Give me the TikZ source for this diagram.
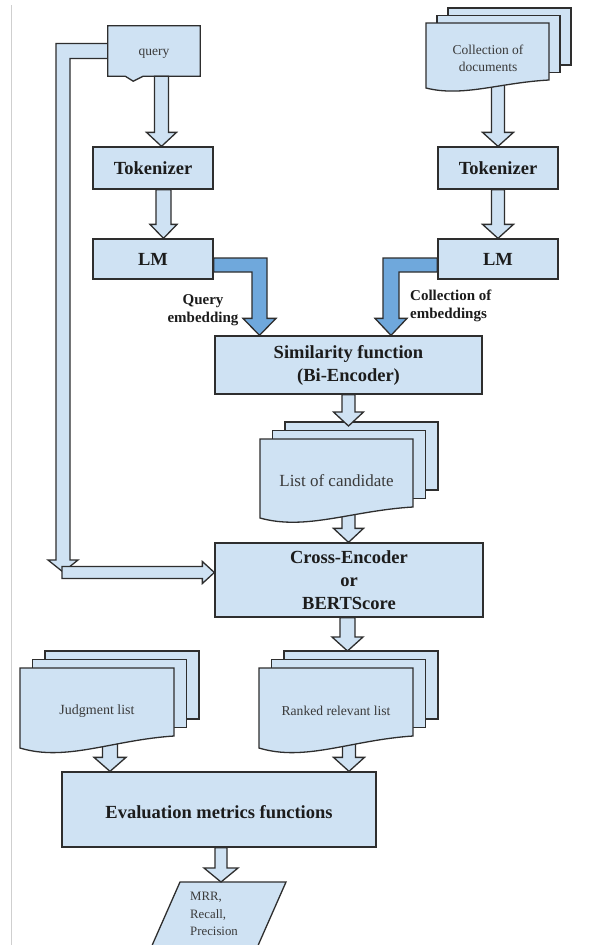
\documentclass[tikz,border=0pt]{standalone}
\usepackage{fontspec}
\setmainfont{Liberation Serif}
\usetikzlibrary{calc}

\definecolor{boxfill}{HTML}{CFE2F3}
\definecolor{embfill}{HTML}{6FA8DC}
\definecolor{edge}{HTML}{2E2E2E}
\definecolor{ink}{HTML}{1C1C1C}
\definecolor{softink}{HTML}{3A3A3A}
\definecolor{rulegray}{HTML}{CFCFCF}

\pgfdeclarelayer{bg}
\pgfdeclarelayer{under}
\pgfsetlayers{bg,under,main}

\tikzset{
  boxline/.style={draw=edge, fill=boxfill, line width=1.3pt, line join=miter},
  stepbox/.style={boxline, inner sep=0pt, align=center, text=ink,
    font=\bfseries\fontsize{18.5}{23}\selectfont},
  doclabel/.style={align=center, text=softink, inner sep=0pt},
  blk/.style={boxline},
  embarrow/.style={draw=edge, fill=embfill, line width=1.3pt, line join=miter},
  tag/.style={text=ink, inner sep=0pt, font=\bfseries\fontsize{15}{18}\selectfont},
}

% stack of three pages, the front one with a wavy bottom edge
% #1 name, #2 left, #3 top, #4 right, #5 bottom (right end), #6 dx, #7 dy, #8 wave depth
\newcommand\docstack[8]{%
  \draw[boxline] ({#2+2*#6},{#3-2*#7}) rectangle ({#4+2*#6},{#5-2*#7});
  \draw[boxline] ({#2+#6},{#3-#7}) rectangle ({#4+#6},{#5-#7});
  \draw[boxline] ({#2},{#3}) -- ({#4},{#3}) -- ({#4},{#5})
    .. controls ({#2+0.6*(#4-#2)},{#5+0.33*#8}) and ({#2+0.3*(#4-#2)},{#5+2.17*#8})
    .. ({#2},{#5+#8}) -- cycle;
  \coordinate (#1-top) at ({(#2+#4)/2},{#3-2*#7});
  \coordinate (#1-bot) at ({(#2+#4)/2},{#5});
}

% hollow block arrow pointing down
% [#1 style] #2 x, #3 start, #4 tip, #5 half shaft width, #6 half head width
\newcommand\blkdown[6][blk]{%
  \draw[#1] let \p1=#3, \p2=#4 in
    ({(#2-#5)*1pt},{\y1}) -- ({(#2+#5)*1pt},{\y1})
    -- ({(#2+#5)*1pt},{\y2+14pt}) -- ({(#2+#6)*1pt},{\y2+14pt})
    -- ({#2*1pt},{\y2}) -- ({(#2-#6)*1pt},{\y2+14pt})
    -- ({(#2-#5)*1pt},{\y2+14pt}) -- cycle;
}

\begin{document}
\begin{tikzpicture}[x=1pt,y=-1pt]
\useasboundingbox (0,0) rectangle (594,945);
\begin{pgfonlayer}{bg}
  \fill[white] (0,0) rectangle (594,945);
  \draw[rulegray, line width=1pt] (11.7,5) -- (11.7,945);
\end{pgfonlayer}

% ---- boxes ----
\node[minimum width=92pt, minimum height=50pt, inner sep=0pt] (query) at (154,51) {};
\node[stepbox, minimum width=120pt, minimum height=42pt] (tokL) at (153,168) {Tokenizer};
\node[stepbox, minimum width=120pt, minimum height=40pt] (lmL) at (153,259) {LM};
\node[stepbox, minimum width=120pt, minimum height=42pt] (tokR) at (498,168) {Tokenizer};
\node[stepbox, minimum width=120pt, minimum height=40pt] (lmR) at (498,259) {LM};
\node[stepbox, minimum width=267pt, minimum height=58pt] (sim) at (348.5,365)
  {Similarity function\\(Bi-Encoder)};
\node[stepbox, minimum width=268pt, minimum height=74pt] (cross) at (349,580)
  {Cross-Encoder\\or\\BERTScore};
\node[stepbox, minimum width=314pt, minimum height=75pt, text height=18pt, text depth=0pt]
  (eval) at (219,809.5) {Evaluation metrics functions};

% query input with a small notch on its lower edge
\draw[boxline] let \p1=(query.west), \p2=(cross.west) in
  ({\x1},{\y1+7.5pt}) -- (56pt,{\y1+7.5pt}) -- (56pt,{\y2+20pt}) -- (48pt,{\y2+20pt})
  -- (63pt,{\y2+8pt}) -- (78pt,{\y2+20pt}) -- (70pt,{\y2+20pt}) -- (70pt,{\y1-7.5pt})
  -- ({\x1},{\y1-7.5pt}) -- cycle;
\draw[blk] let \p1=(query.west), \p2=(cross.west) in
  (62pt,{\y2+13.5pt}) -- ({\x2-12pt},{\y2+13.5pt}) -- ({\x2-12pt},{\y2+18.5pt})
  -- ({\x2},{\y2+7.5pt}) -- ({\x2-12pt},{\y2-3.5pt}) -- ({\x2-12pt},{\y2+1.5pt})
  -- (62pt,{\y2+1.5pt}) -- cycle;
\draw[boxline] (query.north west) -- (query.north east) -- (query.south east)
  -- ++(-57,0) -- ++(-10,5) -- ++(-8,-5) -- (query.south west) -- cycle;
\node[doclabel, font=\fontsize{13.5}{17}\selectfont] (querytext) at (154,54) {query};

% ---- document stacks ----
\docstack{coll}{426}{23}{549}{80}{11}{7.5}{8}
\node[doclabel, font=\fontsize{13.5}{17}\selectfont] (colltext) at (488,58)
  {Collection of\\documents};
\docstack{list}{260}{439}{413}{507}{12.5}{8.5}{11}
\node[doclabel, font=\fontsize{17}{20}\selectfont] (listtext) at (336.5,481) {List of candidate};
\docstack{judg}{20}{668}{174}{736}{12.5}{8.5}{12}
\node[doclabel, font=\fontsize{14}{17}\selectfont] (judgtext) at (97,711) {Judgment list};
\docstack{rank}{259}{668}{413}{736}{12.5}{8.5}{12}
\node[doclabel, font=\fontsize{13.6}{17}\selectfont] (ranktext) at (336,711) {Ranked relevant list};

% ---- result ----
\begin{scope}
  \clip (0,0) rectangle (594,945);
  \draw[boxline] (180,882) -- (286,882) -- (234,1000) -- (128,1000) -- cycle;
\end{scope}
\coordinate (mrrtop) at (221,882);
\node[doclabel, align=left, anchor=north west, font=\fontsize{12.8}{17.5}\selectfont]
  (mrr) at (190,892) {MRR,\\Recall,\\Precision};

% ---- flow arrows ----
\blkdown{161.5}{(query.south)}{(tokL.north)}{7}{15}
\blkdown{163.5}{(tokL.south)}{(lmL.north)}{7.5}{13.5}
\blkdown{498}{(tokR.south)}{(lmR.north)}{6.5}{15.5}
\blkdown{348.5}{(sim.south)}{([yshift=-4pt]list-top)}{6.5}{15}
\blkdown{347.5}{(cross.south)}{(rank-top)}{7.5}{15.5}
\blkdown{221}{(eval.south)}{(mrrtop)}{6}{17}

\begin{pgfonlayer}{under}
  \blkdown{498}{(coll-bot)}{(tokR.north)}{6.5}{15.5}
  \blkdown{348.5}{(list-bot)}{(cross.north)}{6.5}{15}
  \blkdown{110}{(judg-bot)}{(eval.north)}{7.5}{16}
  \blkdown{349}{(rank-bot)}{(eval.north)}{6.5}{15.5}
\end{pgfonlayer}

% ---- embeddings into the similarity function ----
\draw[embarrow] let \p1=(lmL.east), \p2=(sim.north) in
  ({\x1},{\y1+1pt}) -- (267pt,{\y1+1pt}) -- (267pt,{\y2+17pt}) -- (276pt,{\y2+17pt})
  -- (259.5pt,{\y2}) -- (243pt,{\y2+17pt}) -- (252pt,{\y2+17pt}) -- (252pt,{\y1-13pt})
  -- ({\x1},{\y1-13pt}) -- cycle;
\draw[embarrow] let \p1=(lmR.west), \p2=(sim.north) in
  ({\x1},{\y1+1pt}) -- (383pt,{\y1+1pt}) -- (383pt,{\y2+17pt}) -- (375pt,{\y2+17pt})
  -- (391pt,{\y2}) -- (407pt,{\y2+17pt}) -- (399pt,{\y2+17pt}) -- (399pt,{\y1-13pt})
  -- ({\x1},{\y1-13pt}) -- cycle;
\node[tag, align=center] (qemb) at (203,310) {Query\\embedding};
\node[tag, align=left, anchor=west] (cemb) at (410,306) {Collection of\\embeddings};
\end{tikzpicture}
\end{document}
